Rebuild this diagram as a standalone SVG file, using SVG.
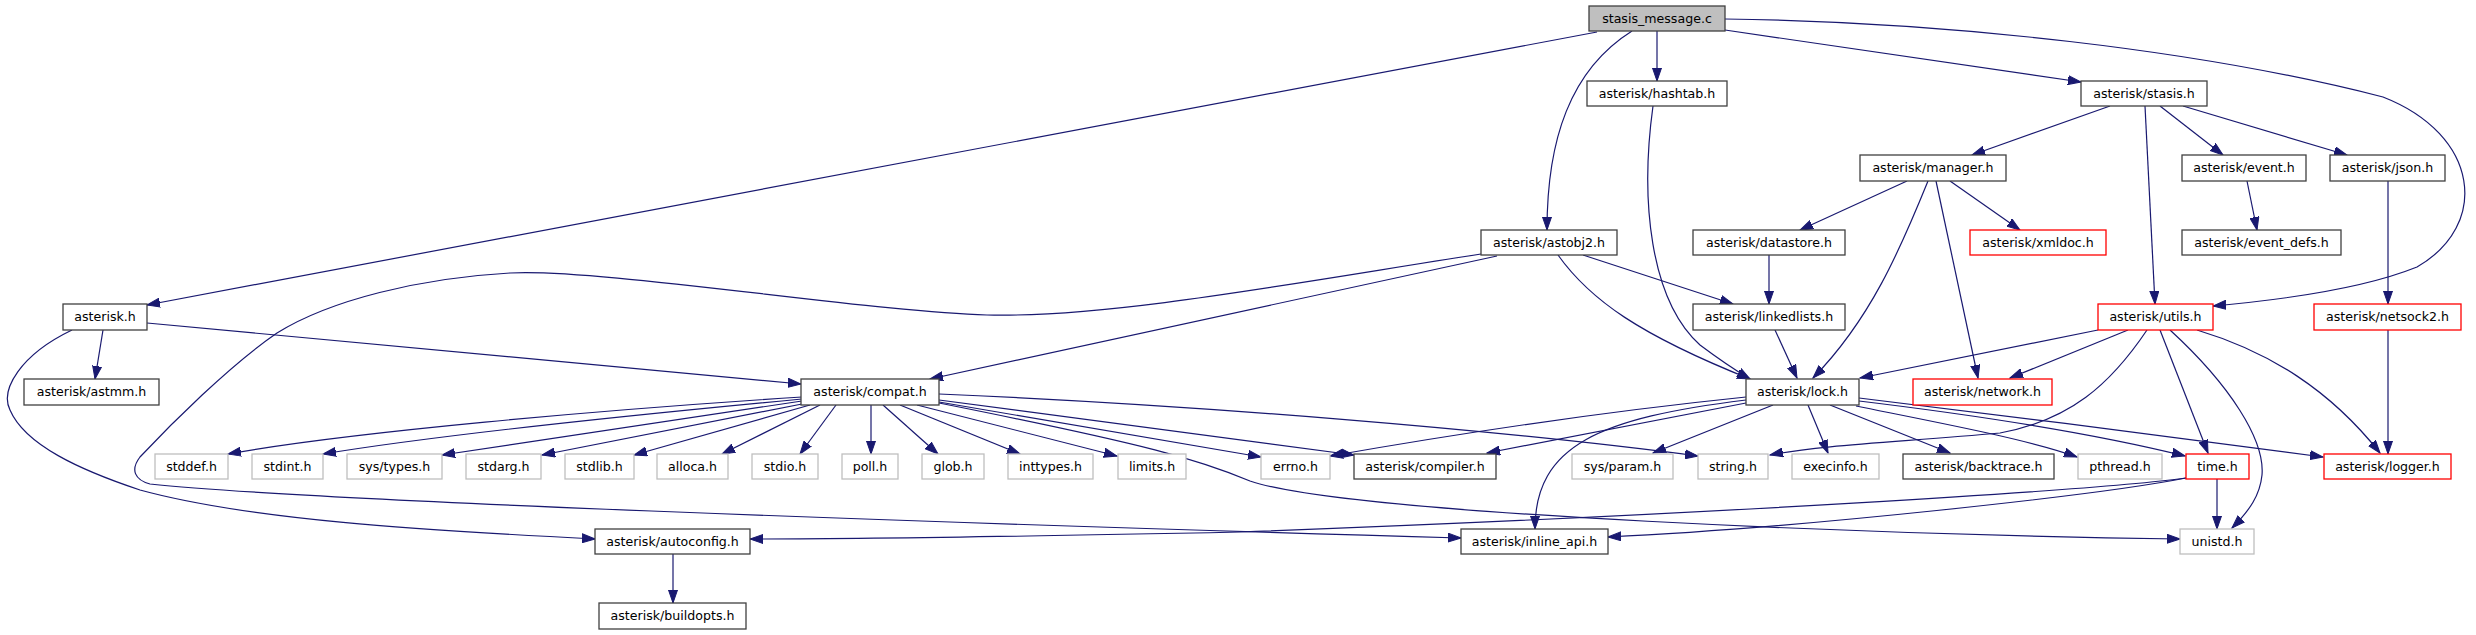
<svg xmlns="http://www.w3.org/2000/svg" width="2476" height="635" viewBox="0 0 2476 635">
<style>
.n rect{fill:#fff;stroke:#404040;stroke-width:1.3}
.g rect{fill:#fff;stroke:#bfbfbf;stroke-width:1.3}
.r rect{fill:#fff;stroke:#ff0000;stroke-width:1.3}
.root rect{fill:#bfbfbf;stroke:#404040;stroke-width:1.3}
text{font-family:"DejaVu Sans","Noto Sans",sans-serif;font-size:12.6px;fill:#000;text-anchor:middle}
.e path{fill:none;stroke:#191970;stroke-width:1.2;marker-end:url(#a)}
</style>
<defs>
<marker id="a" markerUnits="userSpaceOnUse" markerWidth="14" markerHeight="10" refX="13" refY="5" orient="auto"><path d="M0,0.5 L13,5 L0,9.5 z" fill="#191970" stroke="#191970" stroke-width="1"/></marker>
</defs>
<rect width="2476" height="635" fill="#fff"/>
<g class="e" id="edges">
<path d="M1597,32 L147,305"/>
<path d="M1632,31 C1570,70 1547,140 1547,230"/>
<path d="M1657,31 L1657,81"/>
<path d="M1725,30 L2081,82"/>
<path d="M1725,19 C1950,22 2200,50 2383,97 C2480,135 2490,225 2417,267 C2360,290 2280,300 2213,306"/>
<path d="M2110,106 L1972,155"/>
<path d="M2145,106 L2155,304"/>
<path d="M2160,106 L2223,155"/>
<path d="M2183,106 L2347,155"/>
<path d="M2247,181 L2257,230"/>
<path d="M2388,181 L2388,304"/>
<path d="M2388,330 L2388,454"/>
<path d="M1907,181 L1800,230"/>
<path d="M1928,181 C1900,250 1870,320 1813,378"/>
<path d="M1936,181 L1978,378"/>
<path d="M1950,181 L2020,230"/>
<path d="M1769,255 L1769,304"/>
<path d="M1775,330 L1797,378"/>
<path d="M1583,255 L1733,304"/>
<path d="M1558,255 C1590,300 1640,335 1750,379"/>
<path d="M1653,106 C1640,200 1650,300 1700,345 C1720,360 1735,370 1750,379"/>
<path d="M1497,256 L930,379"/>
<path d="M1481,254 C1300,282 1110,318 987,315 C870,312 600,268 510,273 C420,278 330,300 277,333 C230,365 170,425 140,457 C130,470 135,480 150,484 C300,500 900,522 1461,538"/>
<path d="M147,323 L801,384"/>
<path d="M103,330 L95,379"/>
<path d="M72,330 C20,355 0,390 10,410 C25,445 80,470 140,490 C250,520 420,530 595,539"/>
<path d="M673,554 L673,603"/>
<path d="M802,397 C600,410 350,432 228,454"/>
<path d="M802,399 C600,418 420,438 323,454"/>
<path d="M802,401 L442,455"/>
<path d="M802,404 L542,455"/>
<path d="M810,405 L634,455"/>
<path d="M820,405 L722,454"/>
<path d="M836,405 L800,454"/>
<path d="M871,405 L871,454"/>
<path d="M883,405 L938,454"/>
<path d="M900,405 L1020,454"/>
<path d="M917,405 L1117,456"/>
<path d="M939,402 L1261,457"/>
<path d="M939,400 L1354,455"/>
<path d="M939,394 C1200,405 1500,430 1698,456"/>
<path d="M939,403 C1150,445 1200,460 1250,481 C1350,515 1900,535 2180,539"/>
<path d="M1746,397 C1600,412 1450,435 1330,456"/>
<path d="M1746,403 L1487,453"/>
<path d="M1746,400 C1600,418 1535,445 1535,529"/>
<path d="M1773,405 L1653,453"/>
<path d="M1808,405 L1828,453"/>
<path d="M1830,405 L1950,453"/>
<path d="M1856,406 C1950,425 2030,440 2077,457"/>
<path d="M1859,401 C2000,418 2100,435 2185,456"/>
<path d="M1859,398 C2000,415 2200,440 2323,457"/>
<path d="M2098,330 L1860,378"/>
<path d="M2128,330 L2010,378"/>
<path d="M2147,330 C2110,385 2070,420 2000,433 C1900,442 1820,445 1770,455"/>
<path d="M2160,330 L2208,453"/>
<path d="M2170,330 C2230,385 2265,440 2262,475 C2260,495 2250,510 2232,528"/>
<path d="M2197,330 C2270,352 2330,390 2380,453"/>
<path d="M2217,479 L2217,529"/>
<path d="M2186,478 C2100,490 1700,515 1240,532 C1000,537 850,539 750,539"/>
<path d="M2186,478 C2100,495 1800,528 1608,537"/>
</g>
<g class="root" id="n_stasis_message_c"><rect x="1589" y="6" width="136" height="25"/><text x="1657" y="23">stasis_message.c</text></g>
<g class="n" id="n_hashtab"><rect x="1587" y="81" width="140" height="25"/><text x="1657" y="98">asterisk/hashtab.h</text></g>
<g class="n" id="n_stasis"><rect x="2081" y="81" width="126" height="25"/><text x="2144" y="98">asterisk/stasis.h</text></g>
<g class="n" id="n_manager"><rect x="1860" y="155" width="146" height="26"/><text x="1933" y="172">asterisk/manager.h</text></g>
<g class="n" id="n_event"><rect x="2182" y="155" width="124" height="26"/><text x="2244" y="172">asterisk/event.h</text></g>
<g class="n" id="n_json"><rect x="2330" y="155" width="115" height="26"/><text x="2387.5" y="172">asterisk/json.h</text></g>
<g class="n" id="n_astobj2"><rect x="1481" y="230" width="136" height="25"/><text x="1549" y="247">asterisk/astobj2.h</text></g>
<g class="n" id="n_datastore"><rect x="1693" y="230" width="152" height="25"/><text x="1769" y="247">asterisk/datastore.h</text></g>
<g class="r" id="n_xmldoc"><rect x="1970" y="230" width="136" height="25"/><text x="2038" y="247">asterisk/xmldoc.h</text></g>
<g class="n" id="n_event_defs"><rect x="2182" y="230" width="159" height="25"/><text x="2261.5" y="247">asterisk/event_defs.h</text></g>
<g class="n" id="n_asterisk"><rect x="63" y="304" width="84" height="26"/><text x="105" y="321">asterisk.h</text></g>
<g class="n" id="n_linkedlists"><rect x="1693" y="304" width="152" height="26"/><text x="1769" y="321">asterisk/linkedlists.h</text></g>
<g class="r" id="n_utils"><rect x="2098" y="304" width="115" height="26"/><text x="2155.5" y="321">asterisk/utils.h</text></g>
<g class="r" id="n_netsock2"><rect x="2314" y="304" width="147" height="26"/><text x="2387.5" y="321">asterisk/netsock2.h</text></g>
<g class="n" id="n_astmm"><rect x="24" y="379" width="135" height="26"/><text x="91.5" y="396">asterisk/astmm.h</text></g>
<g class="n" id="n_compat"><rect x="801" y="379" width="138" height="26"/><text x="870" y="396">asterisk/compat.h</text></g>
<g class="n" id="n_lock"><rect x="1746" y="379" width="113" height="26"/><text x="1802.5" y="396">asterisk/lock.h</text></g>
<g class="r" id="n_network"><rect x="1913" y="379" width="139" height="26"/><text x="1982.5" y="396">asterisk/network.h</text></g>
<g class="g" id="n_stddef"><rect x="155" y="454" width="73" height="25"/><text x="191.5" y="471">stddef.h</text></g>
<g class="g" id="n_stdint"><rect x="252" y="454" width="71" height="25"/><text x="287.5" y="471">stdint.h</text></g>
<g class="g" id="n_systypes"><rect x="347" y="454" width="95" height="25"/><text x="394.5" y="471">sys/types.h</text></g>
<g class="g" id="n_stdarg"><rect x="466" y="454" width="75" height="25"/><text x="503.5" y="471">stdarg.h</text></g>
<g class="g" id="n_stdlib"><rect x="565" y="454" width="69" height="25"/><text x="599.5" y="471">stdlib.h</text></g>
<g class="g" id="n_alloca"><rect x="657" y="454" width="71" height="25"/><text x="692.5" y="471">alloca.h</text></g>
<g class="g" id="n_stdio"><rect x="752" y="454" width="66" height="25"/><text x="785" y="471">stdio.h</text></g>
<g class="g" id="n_poll"><rect x="842" y="454" width="56" height="25"/><text x="870" y="471">poll.h</text></g>
<g class="g" id="n_glob"><rect x="922" y="454" width="62" height="25"/><text x="953" y="471">glob.h</text></g>
<g class="g" id="n_inttypes"><rect x="1008" y="454" width="85" height="25"/><text x="1050.5" y="471">inttypes.h</text></g>
<g class="g" id="n_limits"><rect x="1118" y="454" width="68" height="25"/><text x="1152" y="471">limits.h</text></g>
<g class="g" id="n_errno"><rect x="1261" y="454" width="69" height="25"/><text x="1295.5" y="471">errno.h</text></g>
<g class="n" id="n_compiler"><rect x="1354" y="454" width="142" height="25"/><text x="1425" y="471">asterisk/compiler.h</text></g>
<g class="g" id="n_sysparam"><rect x="1572" y="454" width="101" height="25"/><text x="1622.5" y="471">sys/param.h</text></g>
<g class="g" id="n_string"><rect x="1698" y="454" width="70" height="25"/><text x="1733" y="471">string.h</text></g>
<g class="g" id="n_execinfo"><rect x="1792" y="454" width="87" height="25"/><text x="1835.5" y="471">execinfo.h</text></g>
<g class="n" id="n_backtrace"><rect x="1903" y="454" width="151" height="25"/><text x="1978.5" y="471">asterisk/backtrace.h</text></g>
<g class="g" id="n_pthread"><rect x="2078" y="454" width="84" height="25"/><text x="2120" y="471">pthread.h</text></g>
<g class="r" id="n_time"><rect x="2186" y="454" width="63" height="25"/><text x="2217.5" y="471">time.h</text></g>
<g class="r" id="n_logger"><rect x="2324" y="454" width="127" height="25"/><text x="2387.5" y="471">asterisk/logger.h</text></g>
<g class="n" id="n_autoconfig"><rect x="595" y="529" width="155" height="25"/><text x="672.5" y="546">asterisk/autoconfig.h</text></g>
<g class="n" id="n_inline_api"><rect x="1461" y="529" width="147" height="25"/><text x="1534.5" y="546">asterisk/inline_api.h</text></g>
<g class="g" id="n_unistd"><rect x="2180" y="529" width="74" height="25"/><text x="2217" y="546">unistd.h</text></g>
<g class="n" id="n_buildopts"><rect x="599" y="603" width="147" height="26"/><text x="672.5" y="620">asterisk/buildopts.h</text></g>
</svg>
